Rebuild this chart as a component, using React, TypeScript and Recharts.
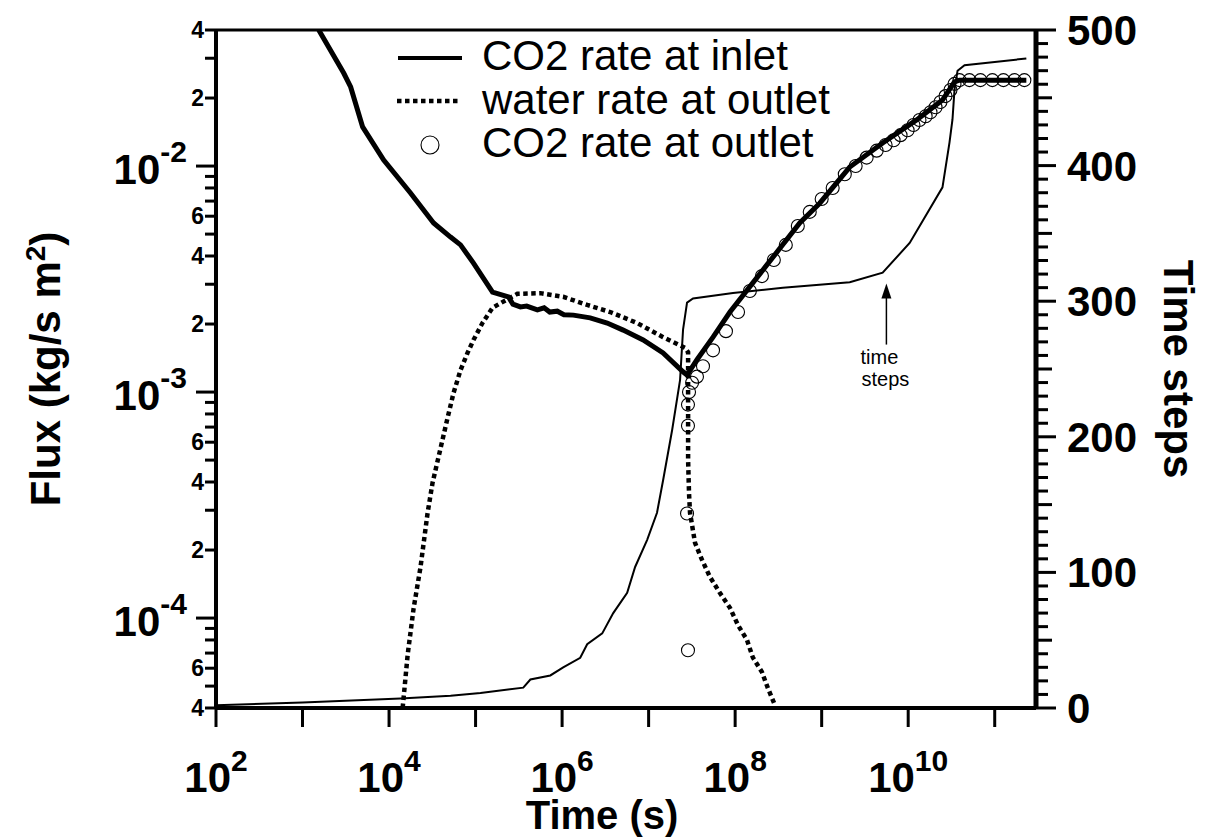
import React from 'react';
import {
  ComposedChart,
  Line,
  Scatter,
  XAxis,
  YAxis,
  Legend,
  ReferenceLine,
  ReferenceDot,
  Label,
} from 'recharts';

const FONT = '"Liberation Sans", Arial, Helvetica, sans-serif';

// ---- CO2 rate at inlet (kg/s m^2) versus time (s)
const inletTime = [
  1.54e3, 2.99e3, 3.6e3, 4.95e3, 8.67e3, 1.77e4, 3.27e4, 5.14e4, 6.7e4, 9.46e4,
  1.57e5, 2.39e5, 2.7e5, 3.3e5, 3.9e5, 5.18e5, 6.2e5, 7.2e5, 8.8e5, 1.05e6,
  1.35e6, 2.11e6, 3.32e6, 5.08e6, 8.65e6, 1.47e7, 2.5e7, 2.78e7, 3.62e7, 5.55e7,
  8.71e7, 5.58e8, 9.5e8, 2.11e9, 5.07e9, 1.25e10, 2.49e10, 3.43e10, 3.92e10, 2.32e11,
];
const inletFlux = [
  0.04, 0.0258, 0.0224, 0.0149, 0.01064, 0.0076, 0.0056, 0.00485, 0.00448, 0.00372,
  0.00277, 0.00264, 0.00245, 0.00238, 0.0024, 0.00231, 0.00236, 0.00226, 0.00228, 0.0022,
  0.00219, 0.00213, 0.00202, 0.00188, 0.0017, 0.00149, 0.00123, 0.00119, 0.00139, 0.00175,
  0.00226, 0.0056, 0.00685, 0.0099, 0.01265, 0.016, 0.0196, 0.0236, 0.024, 0.024,
];

// ---- water rate at outlet (kg/s m^2)
const waterTime = [
  1.436e4, 1.64e4, 1.92e4, 2.31e4, 2.79e4, 3.18e4, 4.74e4, 5.56e4, 6.7e4, 8.07e4,
  9.46e4, 1.2e5, 1.57e5, 2.04e5, 3.04e5, 5.61e5, 1.03e6, 1.95e6, 3.6e6, 7.36e6,
  1.47e7, 2.64e7, 2.86e7, 2.86e7, 2.86e7, 2.93e7, 3.01e7, 3.44e7, 4.14e7, 5.12e7,
  6.68e7, 8.71e7, 1.08e8, 1.37e8, 1.6e8, 2.04e8, 2.39e8, 2.88e8,
];
const waterFlux = [
  4.0e-5, 6.87e-5, 1.1e-4, 1.68e-4, 2.92e-4, 3.96e-4, 7.67e-4, 9.9e-4, 1.25e-3, 1.49e-3,
  1.7e-3, 2.02e-3, 2.36e-3, 2.5e-3, 2.72e-3, 2.74e-3, 2.64e-3, 2.43e-3, 2.26e-3, 2.02e-3,
  1.75e-3, 1.57e-3, 1.5e-3, 9.2e-4, 5.0e-4, 3.57e-4, 2.92e-4, 2.15e-4, 1.81e-4, 1.52e-4,
  1.29e-4, 1.11e-4, 9.3e-5, 8.0e-5, 6.7e-5, 5.77e-5, 4.9e-5, 4.12e-5,
];

// ---- CO2 rate at outlet (kg/s m^2), drawn as open circles
const outletTime = [
  2.85e7, 2.78e7, 2.85e7, 2.85e7, 2.93e7, 3.18e7, 3.62e7, 4.25e7, 5.55e7, 7.83e7,
  1.08e8, 1.48e8, 2.04e8, 2.8e8, 3.85e8, 5.3e8, 7.28e8, 1.0e9, 1.34e9, 1.85e9,
  2.47e9, 3.31e9, 4.32e9, 5.48e9, 6.78e9, 8.16e9, 9.84e9, 1.15e10, 1.35e10, 1.59e10,
  1.81e10, 2.07e10, 2.36e10, 2.7e10, 3.08e10, 3.43e10, 3.92e10, 5.1e10, 6.84e10, 9.4e10,
  1.26e11, 1.69e11, 2.2e11,
];
const outletFlux = [
  7.2e-5, 2.9e-4, 7.1e-4, 8.8e-4, 1.0e-3, 1.1e-3, 1.17e-3, 1.3e-3, 1.53e-3, 1.86e-3,
  2.26e-3, 2.8e-3, 3.26e-3, 3.84e-3, 4.48e-3, 5.43e-3, 6.27e-3, 7.15e-3, 8.0e-3, 9.2e-3,
  1.0e-2, 1.09e-2, 1.17e-2, 1.24e-2, 1.3e-2, 1.37e-2, 1.44e-2, 1.52e-2, 1.6e-2, 1.66e-2,
  1.73e-2, 1.82e-2, 1.92e-2, 2.04e-2, 2.17e-2, 2.31e-2, 2.4e-2, 2.4e-2, 2.4e-2, 2.4e-2,
  2.4e-2, 2.4e-2, 2.4e-2,
];

// ---- cumulative number of time steps (right axis)
const stepTime = [
  100, 1e3, 1.36e4, 5.14e4, 1.14e5, 3.56e5, 4.3e5, 7.31e5, 1.03e6, 1.62e6,
  1.95e6, 2.91e6, 3.9e6, 5.65e6, 6.98e6, 9.62e6, 1.25e7, 1.47e7, 1.87e7, 2.31e7,
  2.5e7, 2.78e7, 3.26e7, 9.44e7, 3.56e8, 2.11e9, 5.07e9, 1.04e10, 2.49e10, 3.0e10,
  3.25e10, 3.43e10, 3.72e10, 4.48e10, 2.32e11,
];
const stepCount = [
  2, 4, 7, 9, 11, 15, 21, 24, 30, 37,
  47, 55, 70, 85, 104, 124, 144, 168, 205, 242,
  279, 299, 302, 306, 310, 314, 321, 343, 384, 417,
  434, 456, 470, 474, 479,
];

// ---- axis ticks and labels
const timeTicks = [1e2, 1e3, 1e4, 1e5, 1e6, 1e7, 1e8, 1e9, 1e10, 1e11];
const timeLabelExps = [2, 4, 6, 8, 10];
const fluxTicks = [
  4e-5, 5e-5, 6e-5, 7e-5, 8e-5, 9e-5,
  1e-4, 2e-4, 3e-4, 4e-4, 5e-4, 6e-4, 7e-4, 8e-4, 9e-4,
  1e-3, 2e-3, 3e-3, 4e-3, 5e-3, 6e-3, 7e-3, 8e-3, 9e-3,
  1e-2, 2e-2, 3e-2, 4e-2,
];
const fluxLabelMantissas = [2, 4, 6];
const stepTicks = Array.from({ length: 51 }, (_, i) => i * 10);
const stepLabels = [0, 100, 200, 300, 400, 500];

const legendLabels = ['CO2 rate at inlet', 'water rate at outlet', 'CO2 rate at outlet'];
const annotationTime = 5.6e9;
const annotationStep = 313;

const inletData = inletTime.map((t, i) => ({ t, v: inletFlux[i] }));
const waterData = waterTime.map((t, i) => ({ t, v: waterFlux[i] }));
const outletData = outletTime.map((t, i) => ({ t, v: outletFlux[i] }));
const stepData = stepTime.map((t, i) => ({ t, s: stepCount[i] }));

const W = 1203;
const H = 832;

const TimeTick = (props: any) => {
  const { x, y, payload } = props;
  const exp = Math.round(Math.log10(payload.value));
  const labeled = timeLabelExps.includes(exp);
  return (
    <g>
      <line x1={x} x2={x} y1={y} y2={y + 19} stroke="#000" strokeWidth={3} />
      {labeled && (
        <text x={x} y={y + 84} textAnchor="middle" fontFamily={FONT} fontWeight="bold" fontSize={42} fill="#000">
          10
          <tspan dy={-21} fontSize={30}>{exp}</tspan>
        </text>
      )}
    </g>
  );
};

const FluxTick = (props: any) => {
  const { x, y, payload } = props;
  const v = payload.value as number;
  const e = Math.floor(Math.log10(v) + 1e-9);
  const m = Math.round(v / Math.pow(10, e));
  const major = m === 1;
  const labeled = fluxLabelMantissas.includes(m);
  return (
    <g>
      <line x1={x} x2={x - (major ? 20 : 11)} y1={y} y2={y} stroke="#000" strokeWidth={3} />
      {major && (
        <text x={x - 29} y={y + 18} textAnchor="end" fontFamily={FONT} fontWeight="bold" fontSize={42} fill="#000">
          10
          <tspan dy={-22} fontSize={30}>{`-${Math.abs(e)}`}</tspan>
        </text>
      )}
      {labeled && (
        <text x={x - 12} y={y + 8} textAnchor="end" fontFamily={FONT} fontWeight="bold" fontSize={23} fill="#000">
          {m}
        </text>
      )}
    </g>
  );
};

const StepTick = (props: any) => {
  const { x, y, payload } = props;
  const v = payload.value as number;
  const len = v % 100 === 0 ? 20 : v % 50 === 0 ? 16 : 12;
  return (
    <g>
      <line x1={x} x2={x + len} y1={y} y2={y} stroke="#000" strokeWidth={3} />
      {stepLabels.includes(v) && (
        <text x={x + 31} y={y + 15} textAnchor="start" fontFamily={FONT} fontWeight="bold" fontSize={42} fill="#000">
          {v}
        </text>
      )}
    </g>
  );
};

const OpenCircle = (props: any) => {
  const { cx, cy } = props;
  if (cx == null || cy == null) return <g />;
  return <circle cx={cx} cy={cy} r={6.5} fill="none" stroke="#000" strokeWidth={1.1} />;
};

const renderLegend = () => (
  <svg width={W} height={170} style={{ display: 'block' }}>
    <line x1={390} x2={454} y1={50} y2={50} stroke="#000" strokeWidth={4} />
    <line x1={389} x2={451} y1={93} y2={93} stroke="#000" strokeWidth={4.5} strokeDasharray="4.5 3.5" />
    <circle cx={422} cy={137} r={9} fill="none" stroke="#000" strokeWidth={1.1} />
    {legendLabels.map((label, i) => (
      <text key={label} x={474} y={62 + i * 43.5} fontFamily={FONT} fontSize={42} fill="#000">
        {label}
      </text>
    ))}
  </svg>
);

const StepsArrow = (props: any) => {
  const { cx, cy } = props;
  if (cx == null || cy == null) return <g />;
  return (
    <g>
      <polygon points={`${cx},${cy} ${cx - 5},${cy + 15} ${cx + 5},${cy + 15}`} fill="#000" />
      <line x1={cx} x2={cx} y1={cy + 12} y2={cy + 61} stroke="#000" strokeWidth={1.5} />
      <text x={cx - 7} y={cy + 80} textAnchor="middle" fontFamily={FONT} fontSize={20} fill="#000">
        time
      </text>
      <text x={cx - 1} y={cy + 102} textAnchor="middle" fontFamily={FONT} fontSize={20} fill="#000">
        steps
      </text>
    </g>
  );
};

export default function App() {
  return (
    <div style={{ width: W, height: H, fontFamily: FONT, background: '#fff' }}>
      <ComposedChart width={W} height={H} margin={{ top: 22, right: 0, bottom: 0, left: 0 }}>
        <XAxis
          dataKey="t"
          type="number"
          scale="log"
          domain={[100, 3e11]}
          allowDataOverflow
          ticks={timeTicks}
          interval={0}
          tick={TimeTick}
          tickLine={false}
          tickSize={0}
          tickMargin={0}
          axisLine={{ stroke: '#000', strokeWidth: 4 }}
          height={132}
        >
          <Label
            content={(p: any) => {
              const vb = p.viewBox || {};
              return (
                <text
                  x={(vb.x ?? 208) + (vb.width ?? 820) / 2 - 24}
                  y={(vb.y ?? 700) + 121}
                  textAnchor="middle"
                  fontFamily={FONT}
                  fontWeight="bold"
                  fontSize={40}
                  fill="#000"
                >
                  Time (s)
                </text>
              );
            }}
          />
        </XAxis>
        <YAxis
          yAxisId="left"
          type="number"
          scale="log"
          domain={[4e-5, 4e-2]}
          allowDataOverflow
          ticks={fluxTicks}
          interval={0}
          tick={FluxTick}
          tickLine={false}
          tickSize={0}
          tickMargin={0}
          axisLine={{ stroke: '#000', strokeWidth: 4 }}
          width={208}
        >
          <Label
            content={(p: any) => {
              const vb = p.viewBox || {};
              const cx = 52;
              const cy = (vb.y ?? 22) + (vb.height ?? 678) / 2;
              return (
                <text
                  x={cx}
                  y={cy}
                  transform={`rotate(-90 ${cx} ${cy})`}
                  textAnchor="middle"
                  fontFamily={FONT}
                  fontWeight="bold"
                  fontSize={42}
                  fill="#000"
                >
                  Flux (kg/s m
                  <tspan dy={-15} fontSize={28}>2</tspan>
                  <tspan dy={15}>)</tspan>
                </text>
              );
            }}
          />
        </YAxis>
        <YAxis
          yAxisId="right"
          orientation="right"
          type="number"
          domain={[0, 500]}
          allowDataOverflow
          ticks={stepTicks}
          interval={0}
          tick={StepTick}
          tickLine={false}
          tickSize={0}
          tickMargin={0}
          axisLine={{ stroke: '#000', strokeWidth: 5 }}
          width={175}
        >
          <Label
            content={(p: any) => {
              const vb = p.viewBox || {};
              const cx = 1156;
              const cy = (vb.y ?? 22) + (vb.height ?? 678) / 2;
              return (
                <text
                  x={cx}
                  y={cy}
                  transform={`rotate(90 ${cx} ${cy})`}
                  textAnchor="middle"
                  fontFamily={FONT}
                  fontWeight="bold"
                  fontSize={42}
                  fill="#000"
                >
                  Time steps
                </text>
              );
            }}
          />
        </YAxis>

        <ReferenceLine yAxisId="left" y={4e-2} stroke="#000" strokeWidth={3} />

        <Line
          yAxisId="right"
          data={stepData}
          dataKey="s"
          type="linear"
          stroke="#000"
          strokeWidth={2}
          dot={false}
          activeDot={false}
          isAnimationActive={false}
          legendType="none"
        />
        <Line
          yAxisId="left"
          data={waterData}
          dataKey="v"
          type="linear"
          stroke="#000"
          strokeWidth={4.5}
          strokeDasharray="4.5 3.5"
          dot={false}
          activeDot={false}
          isAnimationActive={false}
        />
        <Line
          yAxisId="left"
          data={inletData}
          dataKey="v"
          type="linear"
          stroke="#000"
          strokeWidth={5}
          dot={false}
          activeDot={false}
          isAnimationActive={false}
        />
        <Scatter
          yAxisId="left"
          data={outletData}
          dataKey="v"
          shape={OpenCircle}
          isAnimationActive={false}
        />

        <ReferenceDot
          yAxisId="right"
          x={annotationTime}
          y={annotationStep}
          shape={StepsArrow}
        />

        <Legend
          content={renderLegend}
          layout="vertical"
          align="center"
          verticalAlign="middle"
          wrapperStyle={{ left: 0, top: 0, width: W, height: 170, pointerEvents: 'none' }}
        />
      </ComposedChart>
    </div>
  );
}
